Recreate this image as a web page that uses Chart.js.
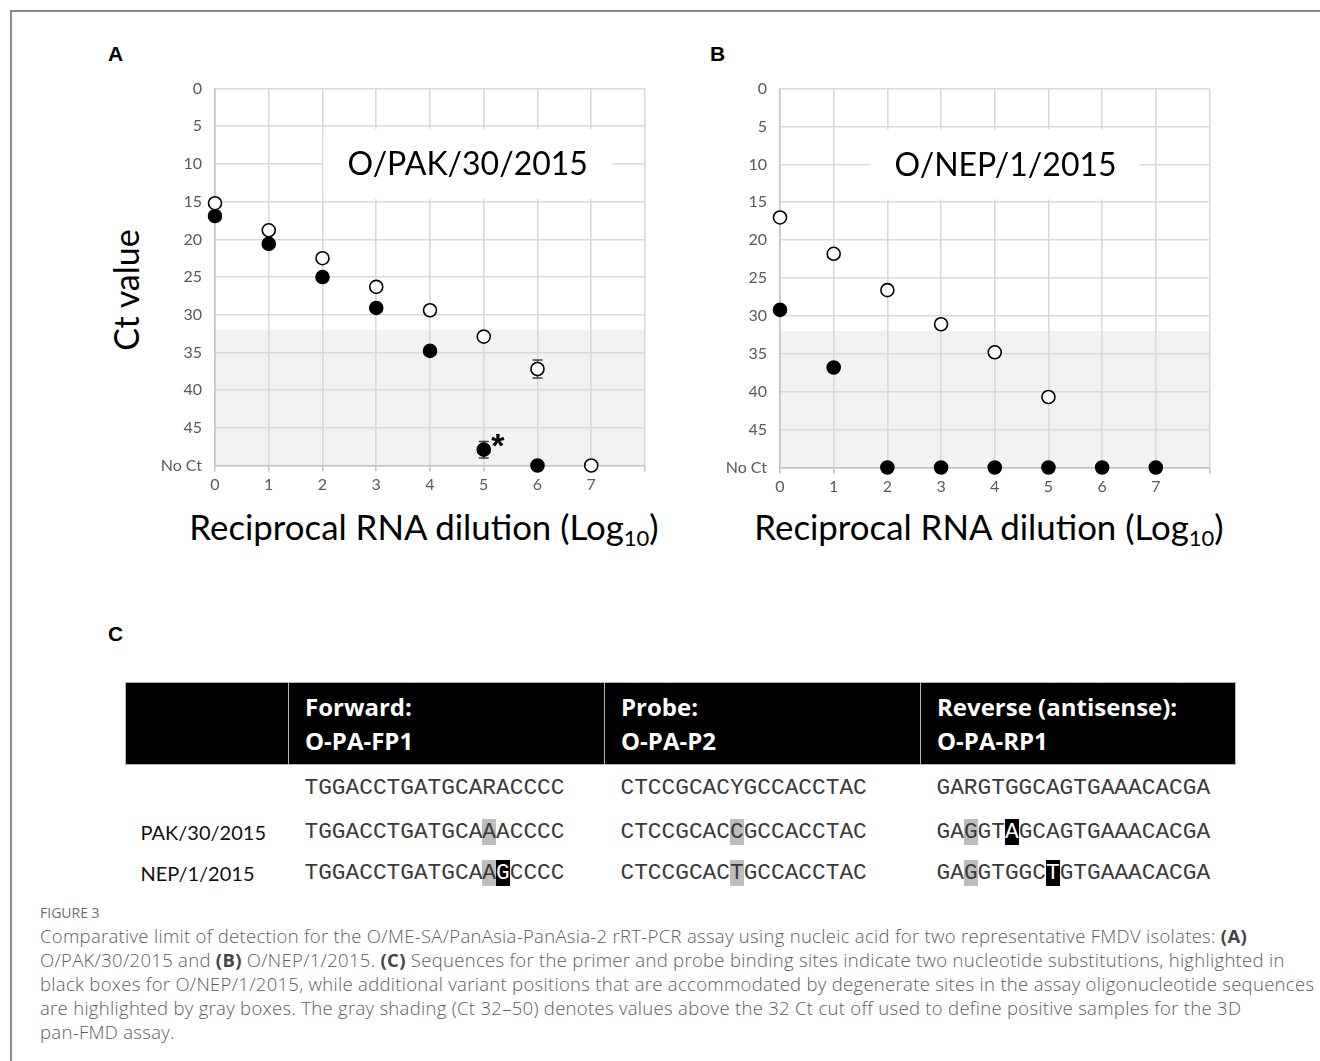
<!DOCTYPE html>
<html>
<head>
  <title>Figure 3</title>
  <script src="https://cdn.jsdelivr.net/npm/chart.js"></script>
  <style>
    body { margin: 0; background: #fff; font-family: Lato, "Open Sans", sans-serif; }
    #page { position: relative; width: 1320px; height: 1061px; overflow: hidden; }
    #frame { position: absolute; left: 10px; top: 10px; right: -5px; bottom: -5px;
             border-top: 2px solid #8a8a8a; border-left: 2px solid #8a8a8a; }
    .panel { position: absolute; font-family: "Liberation Sans", Arial, sans-serif;
             font-weight: bold; font-size: 21px; color: #000; }
    .box { position: absolute; width: 510px; height: 440px; top: 66px; }
    .xtitle { position: absolute; top: 506px; font-size: 34.8px; color: #000;
              transform: translateX(-50%); white-space: nowrap; }
    .xtitle sub { font-size: 22px; vertical-align: -6px; line-height: 0; }
    .ytitle { position: absolute; left: 125px; top: 290px; font-size: 34px; color: #000;
              transform: translate(-50%, -50%) rotate(-90deg); white-space: nowrap; }
    table { position: absolute; left: 125px; top: 682px; width: 1110px;
            border-collapse: collapse; table-layout: fixed; }
    th { background: #000; color: #fff; font-family: "Open Sans", Lato, sans-serif; font-weight: bold;
         font-size: 24px; line-height: 34px; text-align: left; padding: 6px 16px; height: 69px;
         border: 1.5px solid #b5b5b5; }
    td { font-family: "Liberation Mono", "Courier New", monospace; font-size: 22.8px;
         color: #3a3a3a; padding: 0 16px; white-space: nowrap; }
    td.lab { font-family: Lato, "Open Sans", sans-serif; font-size: 20px; color: #111; padding-left: 15px; }
    .g { background: #bdbdbd; }
    .k { background: #000; color: #fff; }
    #caption { position: absolute; left: 40px; top: 902px; color: #5c5c5c; font-family: "Open Sans", Lato, sans-serif;
               font-weight: 300; font-size: 18.5px; letter-spacing: 0.3px; line-height: 24px; white-space: nowrap; }
    #caption .fig { font-size: 14px; color: #6e6e6e; line-height: 22px; font-weight: 400; letter-spacing: 0; }
    #caption b { color: #444; font-weight: 700; }
  </style>
</head>
<body>
<div id="page">
  <div id="frame"></div>
  <div class="panel" style="left:108px; top:42px;">A</div>
  <div class="panel" style="left:710px; top:42px;">B</div>
  <div class="panel" style="left:108px; top:622px;">C</div>

  <div class="box" style="left:150px;"><canvas id="chartA"></canvas></div>
  <div class="box" style="left:715px;"><canvas id="chartB"></canvas></div>
  <div class="ytitle">Ct value</div>
  <div class="xtitle" style="left:424px;">Reciprocal RNA dilution (Log<sub>10</sub>)</div>
  <div class="xtitle" style="left:989px;">Reciprocal RNA dilution (Log<sub>10</sub>)</div>

  <table id="seqTable">
    <colgroup><col style="width:163px"><col style="width:316px"><col style="width:316px"><col style="width:315px"></colgroup>
    <thead><tr id="headRow"></tr></thead>
    <tbody id="seqBody"></tbody>
  </table>

  <div id="caption">
    <div class="fig">FIGURE 3</div>
    Comparative limit of detection for the O/ME-SA/PanAsia-PanAsia-2 rRT-PCR assay using nucleic acid for two representative FMDV isolates: <b>(A)</b><br>
    O/PAK/30/2015 and <b>(B)</b> O/NEP/1/2015. <b>(C)</b> Sequences for the primer and probe binding sites indicate two nucleotide substitutions, highlighted in<br>
    black boxes for O/NEP/1/2015, while additional variant positions that are accommodated by degenerate sites in the assay oligonucleotide sequences<br>
    are highlighted by gray boxes. The gray shading (Ct 32–50) denotes values above the 32 Ct cut off used to define positive samples for the 3D<br>
    pan-FMD assay.
  </div>
</div>

<script>
// x values: reciprocal RNA dilution (log10)
const dilution = [0, 1, 2, 3, 4, 5, 6, 7];
const NO_CT = 50;        // "No Ct" plotted on the bottom line
const CUTOFF = 32;       // gray band from Ct 32 to 50

// panel A: O/PAK/30/2015
const pakOpen      = [15.2, 18.8, 22.5, 26.3, 29.4, 32.9, 37.2, NO_CT];
const pakOpenErr   = [0, 0, 0, 0, 0, 0, 1.2, 0];
const pakFilled    = [16.9, 20.6, 25.0, 29.1, 34.8, 47.9, NO_CT, null];
const pakFilledErr = [0, 0, 0, 0, 0, 1.1, 0, 0];

// panel B: O/NEP/1/2015
const nepOpen      = [17.0, 21.8, 26.6, 31.1, 34.8, 40.7, null, null];
const nepFilled    = [29.2, 36.8, NO_CT, NO_CT, NO_CT, NO_CT, NO_CT, NO_CT];

// table for panel C
const headers = [['', ''], ['Forward:', 'O-PA-FP1'], ['Probe:', 'O-PA-P2'], ['Reverse (antisense):', 'O-PA-RP1']];
const rowLabels = ['', 'PAK/30/2015', 'NEP/1/2015'];
const forwardSeq = ['TGGACCTGATGCARACCCC', 'TGGACCTGATGCAAACCCC', 'TGGACCTGATGCAAGCCCC'];
const probeSeq   = ['CTCCGCACYGCCACCTAC', 'CTCCGCACCGCCACCTAC', 'CTCCGCACTGCCACCTAC'];
const reverseSeq = ['GARGTGGCAGTGAAACACGA', 'GAGGTAGCAGTGAAACACGA', 'GAGGTGGCTGTGAAACACGA'];
// highlighted positions per row: gray = degenerate site, black = substitution
const forwardGray = [[], [13], [13]], forwardBlack = [[], [], [14]];
const probeGray   = [[], [8], [8]],   probeBlack   = [[], [], []];
const reverseGray = [[], [2], [2]],   reverseBlack = [[], [5], [8]];

const FONT = 'Lato, "Open Sans", sans-serif';

function points(ys) {
  return dilution.map((x, i) => ({ x: x, y: ys[i] })).filter(p => p.y !== null);
}

const cutoffBand = {
  id: 'cutoffBand',
  beforeDraw(chart) {
    const { ctx, chartArea, scales } = chart;
    const top = scales.y.getPixelForValue(CUTOFF);
    const bottom = scales.y.getPixelForValue(NO_CT);
    ctx.save();
    ctx.fillStyle = '#f2f2f2';
    ctx.fillRect(chartArea.left, top, chartArea.right - chartArea.left, bottom - top);
    ctx.restore();
  }
};

const extras = {
  id: 'extras',
  beforeDatasetsDraw(chart, args, opts) {
    const { ctx, scales } = chart;
    // isolate name over the grid
    ctx.save();
    ctx.font = '32px ' + FONT;
    const w = ctx.measureText(opts.name).width;
    const cx = scales.x.getPixelForValue(opts.nameX);
    const cy = scales.y.getPixelForValue(opts.nameY);
    ctx.fillStyle = '#fff';
    ctx.fillRect(cx - w / 2 - 24, cy - 35, w + 48, 70);
    ctx.fillStyle = '#000';
    ctx.textAlign = 'center';
    ctx.textBaseline = 'middle';
    ctx.fillText(opts.name, cx, cy + 1);
    // error bars
    ctx.strokeStyle = '#404040';
    ctx.lineWidth = 1.5;
    (opts.errors || []).forEach(e => {
      e.err.forEach((d, i) => {
        if (!d) return;
        const x = scales.x.getPixelForValue(dilution[i]);
        const y1 = scales.y.getPixelForValue(e.values[i] - d);
        const y2 = scales.y.getPixelForValue(e.values[i] + d);
        ctx.beginPath();
        ctx.moveTo(x, y1); ctx.lineTo(x, y2);
        ctx.moveTo(x - 5, y1); ctx.lineTo(x + 5, y1);
        ctx.moveTo(x - 5, y2); ctx.lineTo(x + 5, y2);
        ctx.stroke();
      });
    });
    ctx.restore();
  },
  afterDatasetsDraw(chart, args, opts) {
    const { ctx, scales } = chart;
    ctx.save();
    ctx.font = 'bold 34px "Liberation Sans", Arial, sans-serif';
    ctx.fillStyle = '#000';
    ctx.textAlign = 'center';
    ctx.textBaseline = 'middle';
    (opts.notes || []).forEach(n => {
      ctx.fillText(n.text, scales.x.getPixelForValue(n.x) + 14, scales.y.getPixelForValue(n.y) - 2);
    });
    ctx.restore();
  }
};

function makeChart(id, openVals, filledVals, pad, extraOpts) {
  return new Chart(document.getElementById(id), {
    type: 'scatter',
    data: {
      datasets: [
        { label: 'open', data: points(openVals), pointRadius: 6.5, pointHoverRadius: 6.5, clip: false,
          backgroundColor: '#fff', borderColor: '#000', borderWidth: 1.6 },
        { label: 'filled', data: points(filledVals), pointRadius: 6.5, pointHoverRadius: 6.5, clip: false,
          backgroundColor: '#000', borderColor: '#000', borderWidth: 1.6 }
      ]
    },
    options: {
      responsive: true,
      maintainAspectRatio: false,
      animation: false,
      layout: { padding: pad },
      plugins: { legend: { display: false }, tooltip: { enabled: false }, extras: extraOpts },
      scales: {
        x: {
          type: 'linear', min: 0, max: 8,
          ticks: { stepSize: 1, color: '#595959', font: { family: FONT, size: 16 }, padding: 4,
                   callback: v => (v === 8 ? '' : v) },
          grid: { color: '#d9d9d9', lineWidth: 1.6, tickLength: 6, tickColor: '#c4c4c4' },
          border: { color: '#c4c4c4', width: 1.6 },
          afterFit: s => { s.height = 30; }
        },
        y: {
          type: 'linear', min: 0, max: NO_CT, reverse: true,
          ticks: { stepSize: 5, color: '#595959', font: { family: FONT, size: 16 }, padding: 13,
                   callback: v => (v === NO_CT ? 'No Ct' : v) },
          grid: { color: '#d9d9d9', lineWidth: 1.6, drawTicks: false },
          border: { color: '#c4c4c4', width: 1.6 },
          afterFit: s => { s.width = 65; }
        }
      }
    },
    plugins: [cutoffBand, extras]
  });
}

makeChart('chartA', pakOpen, pakFilled, { top: 0, right: 15, bottom: 10.5, left: 0 }, {
  name: 'O/PAK/30/2015', nameX: 4.7, nameY: 10,
  errors: [{ values: pakOpen, err: pakOpenErr }, { values: pakFilled, err: pakFilledErr }],
  notes: [{ x: 5, y: pakFilled[5], text: '*' }]
});
makeChart('chartB', nepOpen, nepFilled, { top: 0, right: 15.5, bottom: 8.5, left: 0 }, {
  name: 'O/NEP/1/2015', nameX: 4.2, nameY: 10, errors: [], notes: []
});

// panel C table
const headRow = document.getElementById('headRow');
headers.forEach(h => {
  const th = document.createElement('th');
  th.innerHTML = h[0] + '<br>' + h[1];
  headRow.appendChild(th);
});

function marked(seq, gray, black) {
  return seq.split('').map((c, i) => {
    if (black.includes(i)) return '<span class="k">' + c + '</span>';
    if (gray.includes(i)) return '<span class="g">' + c + '</span>';
    return c;
  }).join('');
}

const body = document.getElementById('seqBody');
const rowHeights = [47, 40, 42];
rowLabels.forEach((lab, r) => {
  const tr = document.createElement('tr');
  tr.style.height = rowHeights[r] + 'px';
  tr.innerHTML =
    '<td class="lab">' + lab + '</td>' +
    '<td>' + marked(forwardSeq[r], forwardGray[r], forwardBlack[r]) + '</td>' +
    '<td>' + marked(probeSeq[r], probeGray[r], probeBlack[r]) + '</td>' +
    '<td>' + marked(reverseSeq[r], reverseGray[r], reverseBlack[r]) + '</td>';
  body.appendChild(tr);
});
</script>
</body>
</html>
